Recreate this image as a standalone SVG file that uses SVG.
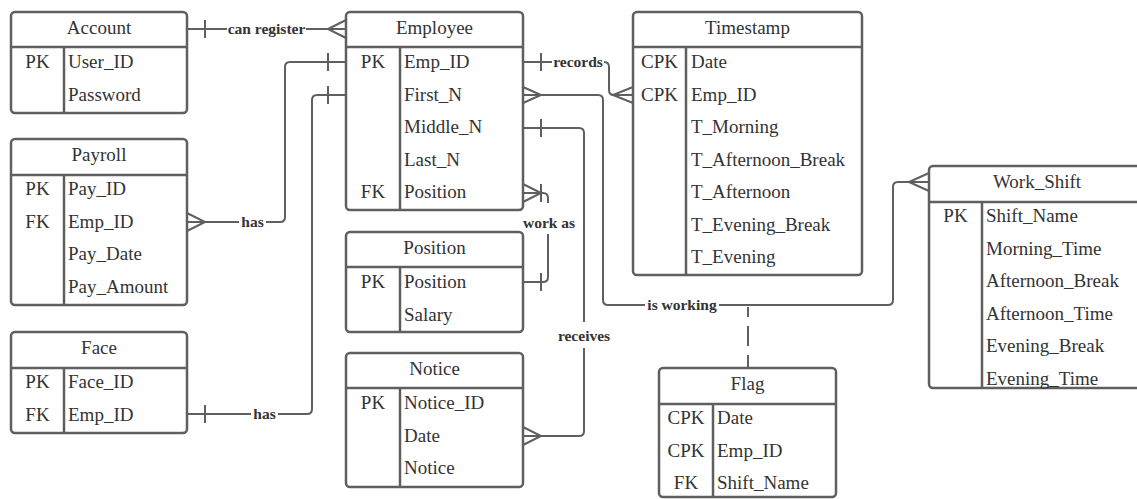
<svg xmlns="http://www.w3.org/2000/svg" width="1137" height="499" viewBox="0 0 1137 499">
  <style>
    .box { fill: #ffffff; stroke: #5f5f5f; stroke-width: 2.5; }
    .div { stroke: #5f5f5f; stroke-width: 2.5; fill: none; }
    .t { font-family: "Liberation Serif", "Times New Roman", serif; font-size: 19px; fill: #333333; }
    .c { text-anchor: middle; }
    .ln { fill: none; stroke: #5f5f5f; stroke-width: 2; }
    .dash { fill: none; stroke: #5f5f5f; stroke-width: 2; stroke-dasharray: 20 9; stroke-dashoffset: 10; }
    .bg { fill: #ffffff; }
    .lbl { font-family: "Liberation Serif", "Times New Roman", serif; font-size: 15.5px; font-weight: bold; fill: #333333; text-anchor: middle; }
  </style>
  <rect width="1137" height="499" fill="#ffffff"/>

  <!-- relationship lines -->
  <g id="connectors">
    <!-- Account to Employee: can register -->
    <path class="ln" d="M187,29 H346"/>
    <path class="ln" d="M205,20 V38"/>
    <path class="ln" d="M346,20 L328,29 L346,38"/>
    <rect class="bg" x="227" y="20" width="79" height="18"/>
    <text class="lbl" x="266.5" y="34">can register</text>

    <!-- Employee to Payroll: has -->
    <path class="ln" d="M346,62 H290 Q285,62 285,67 V217 Q285,222 280,222 H187"/>
    <path class="ln" d="M328,53 V71"/>
    <path class="ln" d="M187,213 L205,222 L187,231"/>
    <rect class="bg" x="239" y="213" width="27" height="18"/>
    <text class="lbl" x="252.5" y="227">has</text>

    <!-- Employee to Face: has -->
    <path class="ln" d="M346,95 H317 Q312,95 312,100 V409 Q312,414 307,414 H187"/>
    <path class="ln" d="M328,86 V104"/>
    <path class="ln" d="M205,405 V423"/>
    <rect class="bg" x="251" y="405" width="27" height="18"/>
    <text class="lbl" x="264.5" y="419">has</text>

    <!-- Employee to Timestamp: records -->
    <path class="ln" d="M523,62 H604 Q609,62 609,67 V90 Q609,95 614,95 H633"/>
    <path class="ln" d="M541,53 V71"/>
    <path class="ln" d="M633,87 L613,95 L633,103"/>
    <rect class="bg" x="552" y="53" width="52" height="18"/>
    <text class="lbl" x="578" y="66.5">records</text>

    <!-- Employee to Work_Shift: is working -->
    <path class="ln" d="M523,95 H598 Q603,95 603,100 V300 Q603,305 608,305 H888 Q893,305 893,300 V187 Q893,182 898,182 H929"/>
    <path class="ln" d="M523,87 L541,95 L523,103"/>
    <path class="ln" d="M929,173 L909,182 L929,191"/>
    <rect class="bg" x="645" y="296" width="74" height="18"/>
    <text class="lbl" x="682" y="309.5">is working</text>
    <!-- associative entity link -->
    <path class="dash" d="M748,307 V368"/>

    <!-- Employee to Notice: receives -->
    <path class="ln" d="M523,128 H579 Q584,128 584,133 V431 Q584,436 579,436 H523"/>
    <path class="ln" d="M541,119 V137"/>
    <path class="ln" d="M523,427 L541,436 L523,445"/>
    <rect class="bg" x="556" y="322" width="56" height="26"/>
    <text class="lbl" x="584" y="341">receives</text>

    <!-- Employee to Position: work as -->
    <path class="ln" d="M523,193 H543 Q548,193 548,198 V277 Q548,282 543,282 H523"/>
    <path class="ln" d="M523,184 L541,193 L523,202"/>
    <path class="ln" d="M541,184 V202"/>
    <path class="ln" d="M541,273 V291"/>
    <rect class="bg" x="521" y="203" width="56" height="31"/>
    <text class="lbl" x="549" y="228">work as</text>
  </g>

  <!-- Account -->
  <g id="account">
    <rect class="box" x="11" y="12" width="176" height="101" rx="4"/>
    <path class="div" d="M11,47 H187 M64,47 V113"/>
    <text class="t c" x="99" y="34">Account</text>
    <text class="t c" x="37.5" y="68">PK</text>
    <text class="t" x="68" y="68">User_ID</text>
    <text class="t" x="68" y="100.5">Password</text>
  </g>

  <!-- Payroll -->
  <g id="payroll">
    <rect class="box" x="11" y="139" width="176" height="166" rx="4"/>
    <path class="div" d="M11,175 H187 M64,175 V305"/>
    <text class="t c" x="99" y="161">Payroll</text>
    <text class="t c" x="37.5" y="195">PK</text>
    <text class="t" x="68" y="195">Pay_ID</text>
    <text class="t c" x="37.5" y="227.5">FK</text>
    <text class="t" x="68" y="227.5">Emp_ID</text>
    <text class="t" x="68" y="260">Pay_Date</text>
    <text class="t" x="68" y="292.5">Pay_Amount</text>
  </g>

  <!-- Face -->
  <g id="face">
    <rect class="box" x="11" y="332" width="176" height="101" rx="4"/>
    <path class="div" d="M11,368 H187 M64,368 V433"/>
    <text class="t c" x="99" y="354">Face</text>
    <text class="t c" x="37.5" y="388">PK</text>
    <text class="t" x="68" y="388">Face_ID</text>
    <text class="t c" x="37.5" y="420.5">FK</text>
    <text class="t" x="68" y="420.5">Emp_ID</text>
  </g>

  <!-- Employee -->
  <g id="employee">
    <rect class="box" x="346" y="12" width="177" height="198" rx="4"/>
    <path class="div" d="M346,47 H523 M400,47 V210"/>
    <text class="t c" x="434.5" y="34">Employee</text>
    <text class="t c" x="373" y="68">PK</text>
    <text class="t" x="404" y="68">Emp_ID</text>
    <text class="t" x="404" y="100.5">First_N</text>
    <text class="t" x="404" y="133">Middle_N</text>
    <text class="t" x="404" y="165.5">Last_N</text>
    <text class="t c" x="373" y="198">FK</text>
    <text class="t" x="404" y="198">Position</text>
  </g>

  <!-- Position -->
  <g id="position">
    <rect class="box" x="346" y="232" width="177" height="100" rx="4"/>
    <path class="div" d="M346,267 H523 M400,267 V332"/>
    <text class="t c" x="434.5" y="254">Position</text>
    <text class="t c" x="373" y="288">PK</text>
    <text class="t" x="404" y="288">Position</text>
    <text class="t" x="404" y="320.5">Salary</text>
  </g>

  <!-- Notice -->
  <g id="notice">
    <rect class="box" x="346" y="353" width="177" height="134" rx="4"/>
    <path class="div" d="M346,388 H523 M400,388 V487"/>
    <text class="t c" x="434.5" y="375">Notice</text>
    <text class="t c" x="373" y="409">PK</text>
    <text class="t" x="404" y="409">Notice_ID</text>
    <text class="t" x="404" y="441.5">Date</text>
    <text class="t" x="404" y="474">Notice</text>
  </g>

  <!-- Timestamp -->
  <g id="timestamp">
    <rect class="box" x="633" y="12" width="229" height="263" rx="4"/>
    <path class="div" d="M633,47 H862 M686,47 V275"/>
    <text class="t c" x="747.5" y="34">Timestamp</text>
    <text class="t c" x="659.5" y="68">CPK</text>
    <text class="t" x="691" y="68">Date</text>
    <text class="t c" x="659.5" y="100.5">CPK</text>
    <text class="t" x="691" y="100.5">Emp_ID</text>
    <text class="t" x="691" y="133">T_Morning</text>
    <text class="t" x="691" y="165.5">T_Afternoon_Break</text>
    <text class="t" x="691" y="198">T_Afternoon</text>
    <text class="t" x="691" y="230.5">T_Evening_Break</text>
    <text class="t" x="691" y="263">T_Evening</text>
  </g>

  <!-- Flag -->
  <g id="flag">
    <rect class="box" x="659" y="368" width="177" height="129" rx="4"/>
    <path class="div" d="M659,404 H836 M713,404 V497"/>
    <text class="t c" x="747.5" y="390">Flag</text>
    <text class="t c" x="686" y="424">CPK</text>
    <text class="t" x="717" y="424">Date</text>
    <text class="t c" x="686" y="456.5">CPK</text>
    <text class="t" x="717" y="456.5">Emp_ID</text>
    <text class="t c" x="686" y="489">FK</text>
    <text class="t" x="717" y="489">Shift_Name</text>
  </g>

  <!-- Work_Shift -->
  <g id="work_shift">
    <rect class="box" x="929" y="166" width="216" height="222" rx="4"/>
    <path class="div" d="M929,202 H1145 M982,202 V388"/>
    <text class="t c" x="1037" y="188">Work_Shift</text>
    <text class="t c" x="955.5" y="222">PK</text>
    <text class="t" x="986" y="222">Shift_Name</text>
    <text class="t" x="986" y="254.5">Morning_Time</text>
    <text class="t" x="986" y="287">Afternoon_Break</text>
    <text class="t" x="986" y="319.5">Afternoon_Time</text>
    <text class="t" x="986" y="352">Evening_Break</text>
    <text class="t" x="986" y="384.5">Evening_Time</text>
  </g>
</svg>
